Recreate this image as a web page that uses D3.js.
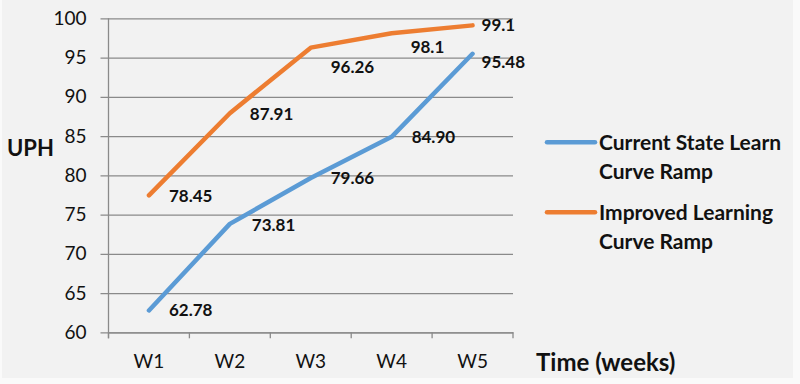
<!DOCTYPE html>
<html>
<head>
<meta charset="utf-8">
<script src="https://cdn.jsdelivr.net/npm/d3@7"></script>
<style>
  html, body { margin: 0; padding: 0; background: #fafafa; }
  svg { display: block; }
  text { font-family: Lato, "Open Sans", sans-serif; fill: #111; }
</style>
</head>
<body>
<script>
// ---- data ----
const categories = ["W1", "W2", "W3", "W4", "W5"];
const currentValues = [62.78, 73.81, 79.66, 84.90, 95.48];
const currentLabels = ["62.78", "73.81", "79.66", "84.90", "95.48"];
const improvedValues = [77.45, 87.91, 96.26, 98.1, 99.1];
const improvedLabels = ["78.45", "87.91", "96.26", "98.1", "99.1"];
const yTicks = [60, 65, 70, 75, 80, 85, 90, 95, 100];
const seriesNames = [["Current State Learn", "Curve Ramp"], ["Improved Learning", "Curve Ramp"]];

// ---- layout ----
const W = 800, H = 384;
const plotL = 108.5, plotR = 513, plotT = 18.3, plotB = 332.3;
const colors = ["#5b9bd5", "#ed7d31"];
const currentOffsets = [[20, 0], [22, 1], [20, 0], [20, 0], [9, 8]];
const improvedOffsets = [[20, 1], [20, 1], [20, 19], [19, 14], [9, 0]];

const svg = d3.select("body").append("svg").attr("width", W).attr("height", H);
svg.append("rect").attr("x", 2).attr("y", 0).attr("width", 791).attr("height", 378).attr("fill", "#f2f2f2");

const x = d3.scaleBand().domain(categories).range([plotL, plotR]).padding(0);
const y = d3.scaleLinear().domain([60, 100]).range([plotB, plotT]);

// Y axis with gridlines
const yAxis = svg.append("g").attr("transform", `translate(${plotL},0)`)
  .call(d3.axisLeft(y).tickValues(yTicks).tickSizeInner(-(plotR - plotL)).tickSizeOuter(0).tickPadding(22));
yAxis.select(".domain").remove();
yAxis.selectAll(".tick line").attr("x1", -8).attr("stroke", "#8a8a8a").attr("stroke-width", 1.3);
yAxis.selectAll(".tick text").attr("font-size", 19).attr("fill", "#111").attr("font-family", "Lato, sans-serif");

// vertical axis line
svg.append("line").attr("x1", plotL).attr("x2", plotL).attr("y1", plotT).attr("y2", plotB + 6)
  .attr("stroke", "#8a8a8a").attr("stroke-width", 1.3);

// X axis
const xAxis = svg.append("g").attr("transform", `translate(0,${plotB})`)
  .call(d3.axisBottom(x).tickSize(0).tickPadding(22));
xAxis.select(".domain").attr("stroke", "#8a8a8a").attr("stroke-width", 1.3);
xAxis.selectAll(".tick text").attr("font-size", 19).attr("fill", "#111").attr("font-family", "Lato, sans-serif");
// tick marks at band boundaries
const bounds = categories.map(c => x(c)).concat([plotR]);
svg.append("g").selectAll("line").data(bounds).join("line")
  .attr("x1", d => d).attr("x2", d => d).attr("y1", plotB).attr("y2", plotB + 6)
  .attr("stroke", "#8a8a8a").attr("stroke-width", 1.3);

const cx = c => x(c) + x.bandwidth() / 2;
const line = d3.line().x(d => cx(d.c)).y(d => y(d.v));

const series = [
  { values: currentValues, labels: currentLabels, offsets: currentOffsets, color: colors[0] },
  { values: improvedValues, labels: improvedLabels, offsets: improvedOffsets, color: colors[1] }
];

series.forEach(s => {
  const pts = categories.map((c, i) => ({ c, v: s.values[i], l: s.labels[i], o: s.offsets[i] }));
  svg.append("path").datum(pts).attr("d", line).attr("fill", "none")
    .attr("stroke", s.color).attr("stroke-width", 4.5)
    .attr("stroke-linecap", "round").attr("stroke-linejoin", "round");
  svg.append("g").selectAll("text").data(pts).join("text")
    .attr("x", d => cx(d.c) + d.o[0]).attr("y", d => y(d.v) + d.o[1]).attr("dy", "0.35em")
    .attr("font-size", 17).attr("font-weight", "bold").text(d => d.l);
});

// axis titles
svg.append("text").attr("x", 7).attr("y", 148).attr("dy", "0.35em")
  .attr("font-size", 22).attr("font-weight", "bold").text("UPH");
svg.append("text").attr("x", 536).attr("y", 363).attr("dy", "0.35em")
  .attr("font-size", 24).attr("font-weight", "bold").text("Time (weeks)");

// legend
const legendY = [142.3, 212.3];
seriesNames.forEach((lines, i) => {
  svg.append("line").attr("x1", 547).attr("x2", 595).attr("y1", legendY[i]).attr("y2", legendY[i])
    .attr("stroke", colors[i]).attr("stroke-width", 4.5).attr("stroke-linecap", "round");
  lines.forEach((t, j) => {
    svg.append("text").attr("x", 599).attr("y", legendY[i] + j * 29.5).attr("dy", "0.35em")
      .attr("font-size", 21).attr("font-weight", "bold").text(t);
  });
});
</script>
</body>
</html>
